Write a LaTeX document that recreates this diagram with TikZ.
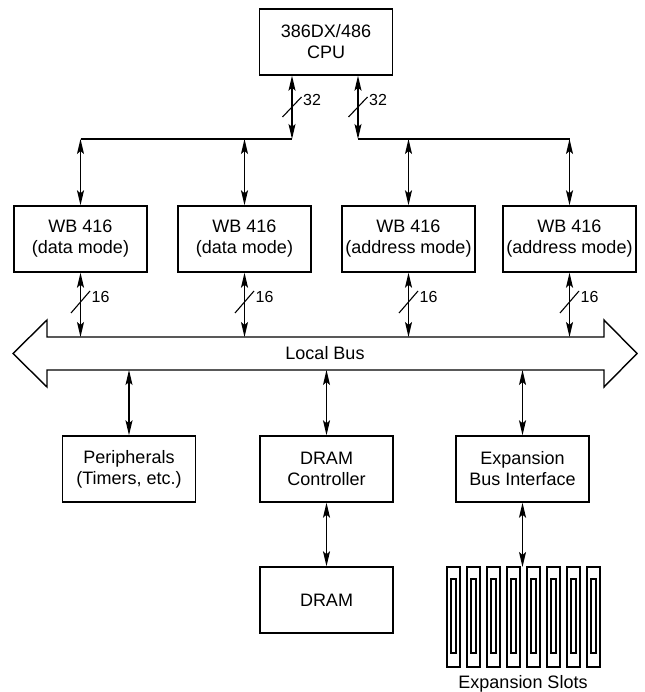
\documentclass[tikz,border=0pt]{standalone}
\usepackage{fontspec}
\setmainfont{Liberation Sans}
\usetikzlibrary{arrows.meta}
\begin{document}
\begin{tikzpicture}[x=1pt,y=-1pt,
  blk/.style={draw,line width=1.4pt,minimum width=133pt,minimum height=66pt,inner sep=0pt,align=center,font=\fontsize{18}{21}\selectfont},
  conn/.style={line width=1.3pt,{Stealth[length=15pt,width=7pt,inset=3pt]}-{Stealth[length=15pt,width=7pt,inset=3pt]}},
  wire/.style={line width=1.4pt},
  slash/.style={line width=1.1pt},
  bw/.style={font=\fontsize{16}{18}\selectfont,anchor=west,inner sep=0pt}]
\useasboundingbox (0,0) rectangle (644,692);
% boxes
\node[blk] (cpu) at (326,42) {386DX/486\\CPU};
\node[blk] (wb1) at (80.5,239) {WB 416\\(data mode)};
\node[blk] (wb2) at (244.5,239) {WB 416\\(data mode)};
\node[blk] (wb3) at (408.5,239) {WB 416\\(address mode)};
\node[blk] (wb4) at (569.5,239) {WB 416\\(address mode)};
\node[blk] (per) at (129,469) {Peripherals\\(Timers, etc.)};
\node[blk] (dc) at (326.5,469) {DRAM\\Controller};
\node[blk] (ebi) at (522.5,469) {Expansion\\Bus Interface};
\node[blk] (dram) at (326.5,600) {DRAM};
% junctions
\coordinate (tl) at (292,139);
\coordinate (tr) at (358,139);
\coordinate (bt) at (0,337);
\coordinate (bb) at (0,370);
\coordinate (st) at (0,567);
% local bus
\draw[wire] (13,353.5) -- (47,320) -- (47,337) -- (604,337) -- (604,320) -- (637,353.5) -- (604,387) -- (604,370) -- (47,370) -- (47,387) -- cycle;
\node[font=\fontsize{18}{21}\selectfont] (bus) at (325,353.5) {Local Bus};
% CPU to top lines
\draw[conn] (cpu.south -| tl) -- (tl);
\draw[conn] (cpu.south -| tr) -- (tr);
\draw[wire] (wb1.north |- tl) -- (tl);
\draw[wire] (tr) -- (wb4.north |- tr);
\foreach \b in {wb1,wb2,wb3,wb4}{
  \draw[conn] (\b.north |- tl) -- (\b.north);
  \draw[conn] (\b.south) -- (\b.south |- bt);
}
\foreach \b in {per,dc,ebi}{
  \draw[conn] (\b.north |- bb) -- (\b.north);
}
\draw[conn] (dc.south) -- (dram.north);
\draw[conn] (ebi.south) -- (ebi.south |- st);
% slashes and widths
\foreach \c/\w in {tl/32,tr/32}{
  \draw[slash] ([shift={(-9.5,10)}]\c |- 0,107) -- ([shift={(9.5,-10)}]\c |- 0,107);
  \node[bw] at ([shift={(11,-7)}]\c |- 0,107) {\w};
}
\foreach \b in {wb1,wb2,wb3,wb4}{
  \draw[slash] ([shift={(-9.5,11)}]\b.south |- 0,302) -- ([shift={(9.5,-11)}]\b.south |- 0,302);
  \node[bw] at ([shift={(11,-5)}]\b.south |- 0,302) {16};
}
% expansion slots
\foreach \i in {0,...,7}{
  \draw[line width=1.1pt] (447+20*\i,567) rectangle +(13,100);
  \draw[line width=1.1pt] (451+20*\i,579) rectangle +(5,74);
}
\node[font=\fontsize{18}{21}\selectfont] (slots) at (523,684) {Expansion Slots};
\end{tikzpicture}
\end{document}
